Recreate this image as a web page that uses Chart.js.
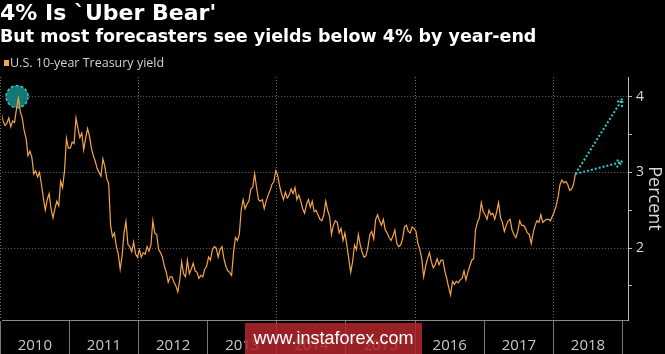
<!DOCTYPE html>
<html>
<head>
<meta charset="utf-8">
<script src="https://cdn.jsdelivr.net/npm/chart.js@4.4.1/dist/chart.umd.min.js"></script>
<style>
  html, body { margin: 0; padding: 0; background: #000; }
  #wrap { position: relative; width: 665px; height: 354px; overflow: hidden; background: #000; }
  #chart { position: absolute; left: 0; top: 0; }
  .title { position: absolute; left: 0; top: 0; color: #fff; font: bold 22px "DejaVu Sans", sans-serif; white-space: nowrap; }
  .subtitle { position: absolute; left: 0; top: 26px; color: #fff; font: bold 17.5px "DejaVu Sans", sans-serif; white-space: nowrap; }
  .legend { position: absolute; left: 4px; top: 54px; color: #d2d2d2; font: 12.5px "Open Sans", sans-serif; white-space: nowrap; }
  .legend i { display: inline-block; width: 5px; height: 6px; background: #f5a545; margin-right: 1px; vertical-align: 1px; }
  .stamp { position: absolute; left: 245px; top: 323px; width: 177px; height: 31px; background: rgba(178, 38, 44, 0.86);
           color: #fff; font: 18px "Liberation Sans", Arial, sans-serif; text-align: center; line-height: 31px; }
</style>
</head>
<body>
<div id="wrap">
  <canvas id="chart" width="665" height="354"></canvas>
  <div class="title">4% Is `Uber Bear'</div>
  <div class="subtitle">But most forecasters see yields below 4% by year-end</div>
  <div class="legend"><i></i>U.S. 10-year Treasury yield</div>
  <div class="stamp">www.instaforex.com</div>
</div>
<script>
// US 10-year Treasury yield, three readings per month from Jan 2010 to Apr 2018
const startYear = 2010;
const pointsPerMonth = 3;
const yields = [
  // 2010
  3.80, 3.68, 3.62, 3.65, 3.72, 3.60, 3.68, 3.66, 3.84, 3.98, 3.80, 3.72,
  3.55, 3.45, 3.22, 3.28, 3.20, 2.98, 3.02, 2.94, 3.00, 2.84, 2.66, 2.50,
  2.64, 2.72, 2.52, 2.40, 2.52, 2.62, 2.56, 2.88, 2.80, 3.02, 3.45, 3.32,
  // 2011
  3.32, 3.40, 3.38, 3.72, 3.58, 3.46, 3.52, 3.30, 3.45, 3.58, 3.48, 3.32,
  3.22, 3.15, 3.05, 3.00, 2.95, 3.18, 3.08, 2.92, 2.85, 2.30, 2.15, 2.20,
  2.02, 1.92, 1.72, 1.90, 2.20, 2.35, 2.05, 2.02, 1.95, 2.08, 1.92, 1.88,
  // 2012
  1.98, 1.88, 1.94, 1.92, 2.02, 1.96, 2.04, 2.36, 2.20, 2.18, 1.98, 1.94,
  1.88, 1.76, 1.68, 1.55, 1.62, 1.62, 1.55, 1.50, 1.42, 1.58, 1.82, 1.66,
  1.62, 1.84, 1.66, 1.72, 1.80, 1.70, 1.68, 1.60, 1.64, 1.62, 1.72, 1.76,
  // 2013
  1.88, 1.84, 1.98, 2.02, 2.00, 1.88, 1.98, 2.02, 1.86, 1.76, 1.70, 1.68,
  1.64, 1.94, 2.14, 2.10, 2.18, 2.50, 2.64, 2.52, 2.58, 2.62, 2.78, 2.80,
  2.98, 2.80, 2.64, 2.62, 2.64, 2.52, 2.62, 2.70, 2.76, 2.84, 2.88, 3.02,
  // 2014
  2.96, 2.82, 2.72, 2.64, 2.74, 2.66, 2.70, 2.78, 2.72, 2.80, 2.64, 2.70,
  2.62, 2.52, 2.46, 2.58, 2.64, 2.54, 2.62, 2.48, 2.50, 2.44, 2.38, 2.36,
  2.44, 2.62, 2.50, 2.42, 2.18, 2.30, 2.36, 2.34, 2.20, 2.26, 2.10, 2.20,
  // 2015
  2.04, 1.86, 1.68, 1.82, 2.04, 1.98, 2.18, 2.04, 1.94, 1.88, 1.90, 2.02,
  2.18, 2.22, 2.12, 2.38, 2.44, 2.36, 2.30, 2.38, 2.24, 2.20, 2.14, 2.10,
  2.16, 2.24, 2.06, 2.02, 2.04, 2.12, 2.28, 2.30, 2.22, 2.20, 2.28, 2.26,
  // 2016
  2.22, 2.06, 1.98, 1.86, 1.62, 1.76, 1.86, 1.94, 1.82, 1.74, 1.78, 1.86,
  1.78, 1.84, 1.84, 1.70, 1.60, 1.48, 1.38, 1.56, 1.52, 1.56, 1.54, 1.58,
  1.60, 1.70, 1.58, 1.68, 1.76, 1.84, 1.86, 2.24, 2.34, 2.40, 2.60, 2.48,
  // 2017
  2.44, 2.38, 2.50, 2.44, 2.46, 2.38, 2.48, 2.60, 2.40, 2.34, 2.22, 2.30,
  2.36, 2.38, 2.24, 2.18, 2.14, 2.22, 2.36, 2.30, 2.30, 2.26, 2.20, 2.18,
  2.06, 2.20, 2.30, 2.36, 2.34, 2.44, 2.34, 2.36, 2.38, 2.38, 2.36, 2.42,
  // 2018
  2.48, 2.56, 2.68, 2.84, 2.90, 2.86, 2.88, 2.84, 2.76, 2.78, 2.84, 2.98
];

// axis settings
const xMin = 2010.03;
const xMax = 2019.08;
const yMin = 1.05;
const yMax = 4.26;
const yearTicks = [2010, 2011, 2012, 2013, 2014, 2015, 2016, 2017, 2018, 2019];
const percentTicks = [1.5, 2, 2.5, 3, 3.5, 4];

// "uber bear" marker on the 2010 high and year-end forecast arrows
const peakMarker = { x: 2010.245, y: 4.0 };
const forecastTargets = [
  { x: 2019.0, y: 3.97 },
  { x: 2019.0, y: 3.14 }
];

const points = yields.map((v, i) => ({
  x: startYear + (i + 0.5) / (12 * pointsPerMonth),
  y: v
}));

const teal = '#34c6c8';

function dottedArrow(ctx, x0, y0, x1, y1) {
  const angle = Math.atan2(y1 - y0, x1 - x0);
  const head = 8;
  ctx.beginPath();
  ctx.moveTo(x0, y0);
  ctx.lineTo(x1, y1);
  ctx.moveTo(x1 - head * Math.cos(angle - 0.5), y1 - head * Math.sin(angle - 0.5));
  ctx.lineTo(x1, y1);
  ctx.lineTo(x1 - head * Math.cos(angle + 0.5), y1 - head * Math.sin(angle + 0.5));
  ctx.stroke();
}

const markerPlugin = {
  id: 'markers',
  beforeDatasetsDraw(chart) {
    const { ctx, scales: { x, y } } = chart;
    const cx = x.getPixelForValue(peakMarker.x);
    const cy = y.getPixelForValue(peakMarker.y);
    ctx.save();
    ctx.beginPath();
    ctx.arc(cx, cy, 11, 0, Math.PI * 2);
    ctx.fillStyle = 'rgba(26, 130, 128, 0.9)';
    ctx.fill();
    ctx.setLineDash([3, 2]);
    ctx.lineWidth = 1.5;
    ctx.strokeStyle = teal;
    ctx.stroke();
    ctx.restore();
  },
  afterDatasetsDraw(chart) {
    const { ctx, scales: { x, y } } = chart;
    const last = points[points.length - 1];
    const x0 = x.getPixelForValue(last.x);
    const y0 = y.getPixelForValue(last.y);
    ctx.save();
    ctx.strokeStyle = teal;
    ctx.lineWidth = 2;
    ctx.setLineDash([2, 2]);
    forecastTargets.forEach(t => {
      dottedArrow(ctx, x0, y0, x.getPixelForValue(t.x), y.getPixelForValue(t.y));
    });
    ctx.restore();
  }
};

// in v4 the grid line dash lives under border.dash; keep the axis line itself solid
const gridDash = c => (c.type === 'tick' ? [1, 2] : []);

new Chart(document.getElementById('chart'), {
  type: 'line',
  data: {
    datasets: [{
      label: 'U.S. 10-year Treasury yield',
      data: points,
      borderColor: '#f5a545',
      borderWidth: 1.2,
      pointRadius: 0,
      tension: 0
    }]
  },
  options: {
    responsive: false,
    animation: false,
    layout: { padding: { top: 77, left: 0, right: 0, bottom: 0 } },
    plugins: {
      legend: { display: false },
      tooltip: { enabled: false }
    },
    scales: {
      x: {
        type: 'linear',
        min: xMin,
        max: xMax,
        afterBuildTicks: scale => { scale.ticks = yearTicks.map(v => ({ value: v })); },
        afterFit: scale => { scale.height = 34; },
        ticks: {
          autoSkip: false,
          maxRotation: 0,
          labelOffset: 34.7,
          padding: -17,
          color: '#c8c8c8',
          font: { family: 'Open Sans', size: 15 },
          callback: v => (v < 2019 ? String(v) : '')
        },
        grid: {
          color: c => (c.tick && c.tick.value % 2 === 0 ? '#6a6a6a' : 'transparent'),
          tickBorderDash: [],
          tickColor: '#777',
          tickLength: 34,
          lineWidth: 1
        },
        border: { color: '#888', dash: gridDash }
      },
      y: {
        position: 'right',
        min: yMin,
        max: yMax,
        afterBuildTicks: scale => { scale.ticks = percentTicks.map(v => ({ value: v })); },
        afterFit: scale => { scale.width = 37; },
        ticks: {
          padding: 4,
          color: '#d8d8d8',
          font: { family: 'Open Sans', size: 14 },
          callback: v => (Number.isInteger(v) ? String(v) : '')
        },
        grid: {
          color: c => (c.tick && Number.isInteger(c.tick.value) ? '#6a6a6a' : 'transparent'),
          tickBorderDash: [],
          tickColor: '#bbb',
          tickLength: 4
        },
        border: { color: '#bbb', dash: gridDash },
        title: {
          display: true,
          text: 'Percent',
          color: '#d8d8d8',
          font: { family: 'Open Sans', size: 18 },
          padding: 0
        }
      }
    }
  },
  plugins: [markerPlugin]
});
</script>
</body>
</html>
